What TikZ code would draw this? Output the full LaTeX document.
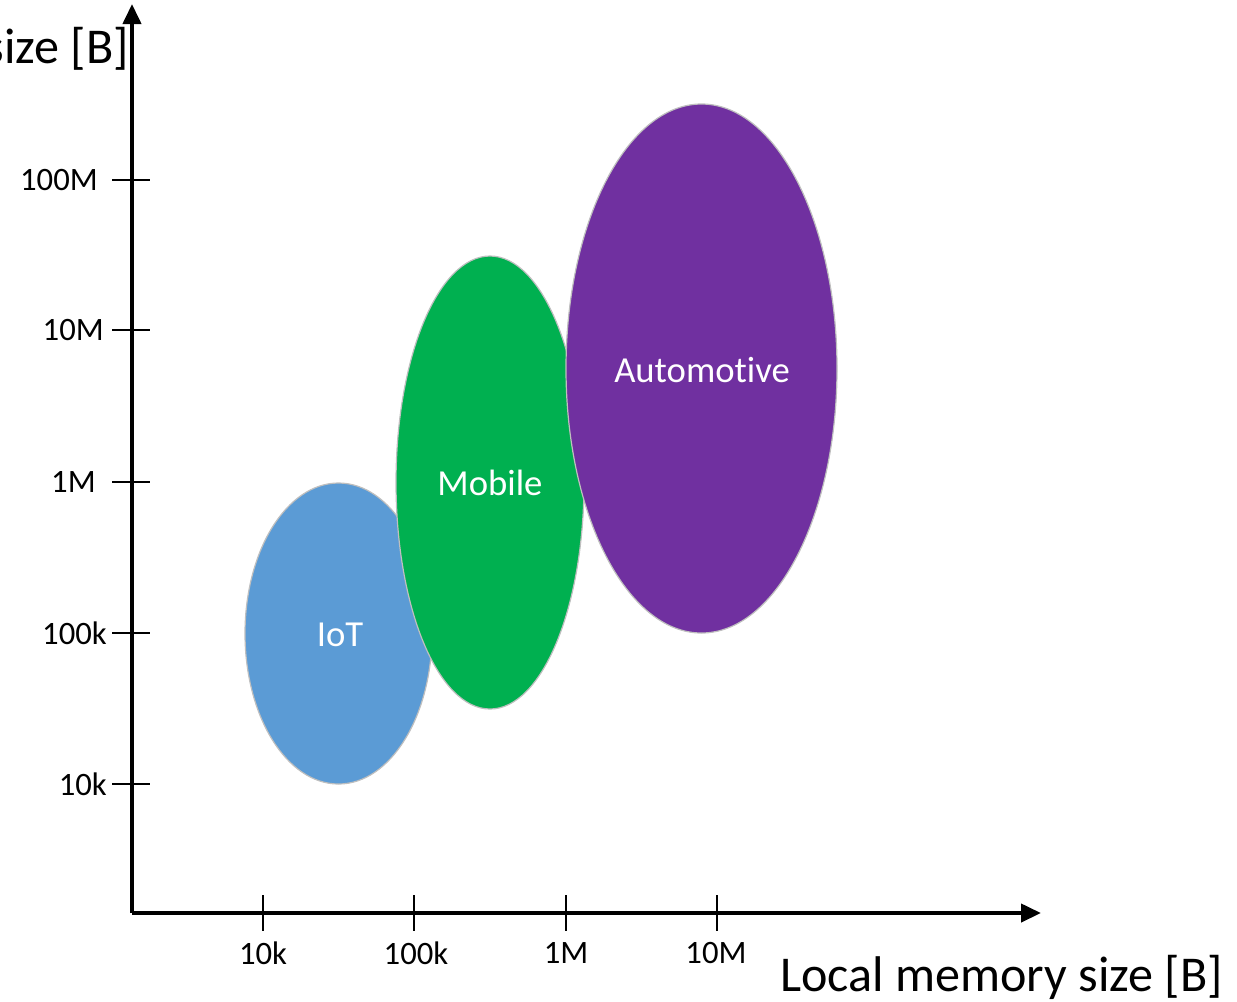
\documentclass[tikz,border=0pt]{standalone}
\usepackage{fontspec}
\setmainfont{Carlito}[Ligatures=NoCommon]
\usetikzlibrary{arrows.meta,shapes.geometric}
\definecolor{iotblue}{HTML}{5B9BD5}
\definecolor{mobgreen}{HTML}{00B050}
\definecolor{autopurple}{HTML}{7030A0}
\definecolor{rimgray}{HTML}{BFBFBF}
\begin{document}
\begin{tikzpicture}[x=0.75pt,y=-0.75pt,
  axisline/.style={line width=3pt,-{Triangle[length=15pt,width=13.5pt]}},
  tickline/.style={line width=1.5pt},
  ticklabel/.style={font=\fontsize{24.5}{28}\selectfont,inner sep=0pt},
  axislabel/.style={font=\fontsize{37.6}{42}\selectfont,inner sep=0pt},
  blob/.style={ellipse,draw=rimgray,line width=0.9pt,text=white,
    font=\fontsize{27.5}{32}\selectfont,inner sep=0pt},
  bloblabel/.style={text=white,font=\fontsize{27.5}{32}\selectfont}]
\useasboundingbox (0,0) rectangle (1237,1001);
\clip (0,0) rectangle (1237,1001);

% memory-class regions, back to front
\node[blob,fill=iotblue,minimum width=140.25pt,minimum height=225.75pt] (iot) at (338.5,633.5) {};
\node[blob,fill=mobgreen,minimum width=141pt,minimum height=339.75pt] (mobile) at (490,482.5) {};
\node[blob,fill=autopurple,minimum width=203.25pt,minimum height=396.75pt] (auto) at (701.5,368.5) {};
\node[bloblabel] (iotlbl) at (340,635) {IoT};
\node[bloblabel] (moblbl) at (490,483) {Mobile};
\node[bloblabel] (autolbl) at (702,370) {Automotive};

% axes
\coordinate (origin) at (132,913);
\coordinate (xend) at (1041,913);
\coordinate (yend) at (132,4);
\draw[axisline] (origin) -- (xend);
\draw[axisline] (origin) -- (yend);

% y ticks
\foreach \yy in {180,330,482,633,784}
  \draw[tickline] (112,\yy) -- (150,\yy);
\node[ticklabel,anchor=east] (y100M) at (98,180) {100M};
\node[ticklabel,anchor=east] (y10M) at (104,330) {10M};
\node[ticklabel,anchor=east] (y1M) at (96,482) {1M};
\node[ticklabel,anchor=east] (y100k) at (107,633) {100k};
\node[ticklabel,anchor=east] (y10k) at (107,784) {10k};

% x ticks
\foreach \xx in {263,414,566,717}
  \draw[tickline] (\xx,895) -- (\xx,931);
\node[ticklabel] (x10k) at (263,953) {10k};
\node[ticklabel] (x100k) at (416,953) {100k};
\node[ticklabel] (x1M) at (566,953) {1M};
\node[ticklabel] (x10M) at (716,953) {10M};

% axis titles
\node[axislabel,anchor=base east] (xtitle) at (1223,991) {Local memory size [B]};
\node[axislabel,anchor=base east] (ytitle) at (129,63) {size [B]};
\end{tikzpicture}
\end{document}
